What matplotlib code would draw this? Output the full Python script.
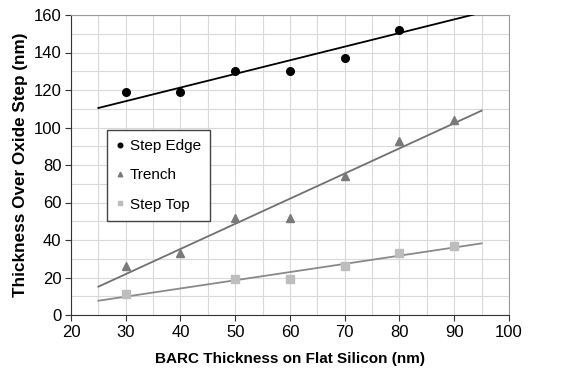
import matplotlib.pyplot as plt
from matplotlib.ticker import MultipleLocator

# --- data ---
barc = [30, 40, 50, 60, 70, 80, 90]
step_edge_x = [30, 40, 50, 60, 70, 80]
step_edge = [119, 119, 130, 130, 137, 152]
trench = [26, 33, 52, 52, 74, 93, 104]
step_top_x = [30, 50, 60, 70, 80, 90]
step_top = [11, 19, 19, 26, 33, 37]

# trend line endpoints (as drawn in the source)
fit_x = [25, 95]
edge_fit = [110.4, 161.3]
trench_fit = [15.1, 109.0]
top_fit = [7.6, 38.2]

plt.rcParams['font.family'] = ['Liberation Sans', 'DejaVu Sans']

fig = plt.figure(figsize=(5.66, 3.75), dpi=100)
ax = fig.add_axes([0.1254, 0.16, 0.7739, 0.80])

ax.plot(fit_x, edge_fit, color='black', lw=1.3, zorder=3)
ax.plot(fit_x, trench_fit, color='#707070', lw=1.3, zorder=3)
ax.plot(fit_x, top_fit, color='#8a8a8a', lw=1.3, zorder=3)

ax.plot(step_edge_x, step_edge, 'o', color='black', ms=5.5, label='Step Edge', zorder=4)
ax.plot(barc, trench, '^', color='#7a7a7a', ms=5.5, label='Trench', zorder=4)
ax.plot(step_top_x, step_top, 's', color='#bdbdbd', ms=5.5, label='Step Top', zorder=4)

ax.set_xlim(20, 100)
ax.set_ylim(0, 160)
ax.xaxis.set_major_locator(MultipleLocator(10))
ax.xaxis.set_minor_locator(MultipleLocator(5))
ax.yaxis.set_major_locator(MultipleLocator(20))
ax.yaxis.set_minor_locator(MultipleLocator(10))
ax.grid(which='both', color='#d9d9d9', lw=0.8, zorder=0)
ax.set_axisbelow(True)

for side in ['top', 'right']:
    ax.spines[side].set_color('#9a9a9a')
for side in ['left', 'bottom']:
    ax.spines[side].set_color('#333333')
ax.tick_params(which='major', labelsize=12, length=4, color='#333333', pad=3)
ax.tick_params(which='minor', length=0)

ax.set_xlabel('BARC Thickness on Flat Silicon (nm)', fontsize=11, fontweight='bold', labelpad=9)
ax.set_ylabel('Thickness Over Oxide Step (nm)', fontsize=12.3, fontweight='bold', labelpad=4)

leg = ax.legend(loc='upper left', bbox_to_anchor=(0.082, 0.617), borderaxespad=0,
                fontsize=11, handlelength=0.5, handletextpad=0.4, markerscale=0.6,
                fancybox=False, framealpha=1, edgecolor='#444444',
                borderpad=0.6, labelspacing=1.0)
leg.get_frame().set_linewidth(1.0)

fig.savefig('out.png', dpi=100)
